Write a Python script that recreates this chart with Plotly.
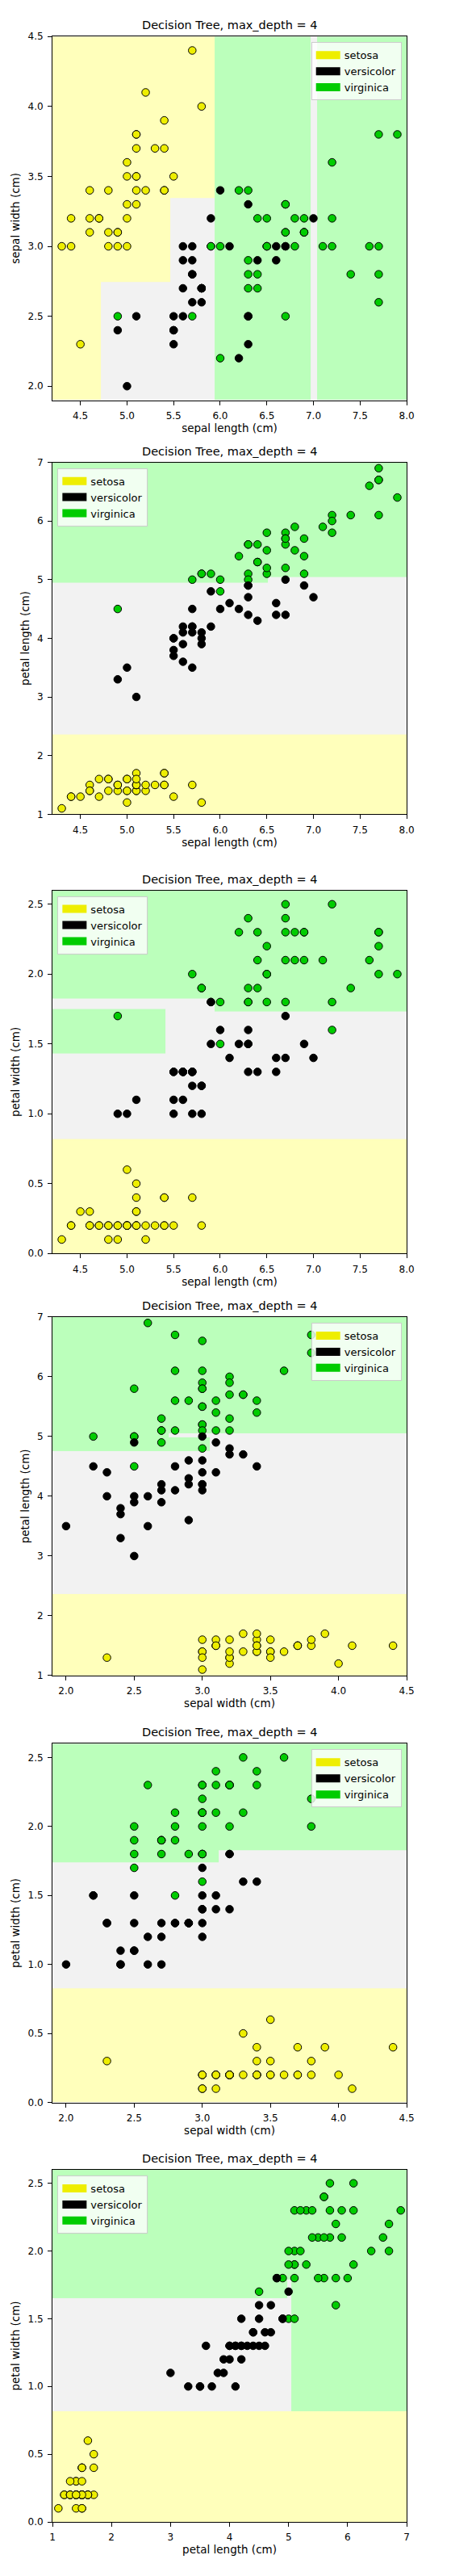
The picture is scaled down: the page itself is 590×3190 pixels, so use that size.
import plotly.graph_objects as go

# iris training rows, in the order they are drawn (later rows sit on top)
sepal_length = [
    5.1, 4.9, 4.7, 4.6, 5.0, 5.4, 4.6, 4.9, 5.4, 4.8, 4.8, 4.3, 5.8, 5.7, 5.1, 5.1, 5.4, 5.1, 5.1,
    5.0, 5.2, 4.7, 4.8, 5.4, 5.2, 4.9, 5.0, 5.5, 4.4, 5.1, 4.5, 4.4, 5.0, 5.1, 4.6, 5.3, 5.0,
    6.9, 5.9, 6.7,
    5.8, 7.1, 6.3, 6.5, 7.6, 4.9, 6.7, 7.2, 6.5, 6.4, 6.8, 5.7, 6.4, 6.5, 7.7, 7.7, 6.0, 6.9,
    7.7, 6.3, 6.7, 7.2, 6.4, 7.2, 7.4, 7.9, 6.3, 7.7, 6.3, 6.0, 6.9, 6.7, 6.9, 5.8, 6.8, 6.7,
    6.7, 6.3, 6.5, 6.2, 5.9,
    7.0, 5.5, 5.7, 6.3, 4.9, 6.6, 5.0, 5.6, 5.8, 6.2, 5.6, 5.9, 6.3, 6.4, 6.6, 6.7, 5.7, 5.5,
    5.5, 5.8, 6.0, 6.3, 5.6, 5.5, 6.1, 5.8, 5.6, 5.7, 5.7, 5.1, 5.7,
]
sepal_width = [
    3.5, 3.0, 3.2, 3.1, 3.6, 3.9, 3.4, 3.1, 3.7, 3.4, 3.0, 3.0, 4.0, 4.4, 3.5, 3.8, 3.4, 3.7, 3.3,
    3.0, 3.4, 3.2, 3.1, 3.4, 4.1, 3.1, 3.2, 3.5, 3.0, 3.4, 2.3, 3.2, 3.5, 3.8, 3.2, 3.7, 3.3,
    3.1, 3.0, 3.1,
    2.7, 3.0, 2.9, 3.0, 3.0, 2.5, 2.5, 3.6, 3.2, 2.7, 3.0, 2.5, 3.2, 3.0, 3.8, 2.6, 2.2, 3.2,
    2.8, 2.7, 3.3, 3.2, 2.8, 3.0, 2.8, 3.8, 2.8, 3.0, 3.4, 3.0, 3.1, 3.1, 3.1, 2.7, 3.2, 3.3,
    3.0, 2.5, 3.0, 3.4, 3.0,
    3.2, 2.3, 2.8, 3.3, 2.4, 2.9, 2.0, 2.9, 2.7, 2.2, 2.5, 3.2, 2.5, 2.9, 3.0, 3.0, 2.6, 2.4,
    2.4, 2.7, 3.4, 2.3, 3.0, 2.5, 3.0, 2.6, 2.7, 3.0, 2.9, 2.5, 2.8,
]
petal_length = [
    1.4, 1.4, 1.3, 1.5, 1.4, 1.7, 1.4, 1.5, 1.5, 1.6, 1.4, 1.1, 1.2, 1.5, 1.4, 1.5, 1.7, 1.5, 1.7,
    1.6, 1.4, 1.6, 1.6, 1.5, 1.5, 1.5, 1.2, 1.3, 1.3, 1.5, 1.3, 1.3, 1.6, 1.6, 1.4, 1.5, 1.4,
    4.9, 4.2, 4.4,
    5.1, 5.9, 5.6, 5.8, 6.6, 4.5, 5.8, 6.1, 5.1, 5.3, 5.5, 5.0, 5.3, 5.5, 6.7, 6.9, 5.0, 5.7,
    6.7, 4.9, 5.7, 6.0, 5.6, 5.8, 6.1, 6.4, 5.1, 6.1, 5.6, 4.8, 5.4, 5.6, 5.1, 5.1, 5.9, 5.7,
    5.2, 5.0, 5.2, 5.4, 5.1,
    4.7, 4.0, 4.5, 4.7, 3.3, 4.6, 3.5, 3.6, 4.1, 4.5, 3.9, 4.8, 4.9, 4.3, 4.4, 5.0, 3.5, 3.8,
    3.7, 3.9, 4.5, 4.4, 4.1, 4.0, 4.6, 4.0, 4.2, 4.2, 4.2, 3.0, 4.1,
]
petal_width = [
    0.2, 0.2, 0.2, 0.2, 0.2, 0.4, 0.3, 0.1, 0.2, 0.2, 0.1, 0.1, 0.2, 0.4, 0.3, 0.3, 0.2, 0.4, 0.5,
    0.2, 0.2, 0.2, 0.2, 0.4, 0.1, 0.2, 0.2, 0.2, 0.2, 0.2, 0.3, 0.2, 0.6, 0.2, 0.2, 0.2, 0.2,
    1.5, 1.5, 1.4,
    1.9, 2.1, 1.8, 2.2, 2.1, 1.7, 1.8, 2.5, 2.0, 1.9, 2.1, 2.0, 2.3, 1.8, 2.2, 2.3, 1.5, 2.3,
    2.0, 1.8, 2.1, 1.8, 2.1, 1.6, 1.9, 2.0, 1.5, 2.3, 2.4, 1.8, 2.1, 2.4, 2.3, 1.9, 2.3, 2.5,
    2.3, 1.9, 2.0, 2.3, 1.8,
    1.4, 1.3, 1.3, 1.6, 1.0, 1.3, 1.0, 1.3, 1.0, 1.5, 1.1, 1.8, 1.5, 1.3, 1.4, 1.7, 1.0, 1.1,
    1.0, 1.2, 1.6, 1.3, 1.3, 1.3, 1.4, 1.2, 1.3, 1.2, 1.3, 1.1, 1.3,
]
species = [
    0, 0, 0, 0, 0, 0, 0, 0, 0, 0, 0, 0, 0, 0, 0, 0, 0, 0, 0,
    0, 0, 0, 0, 0, 0, 0, 0, 0, 0, 0, 0, 0, 0, 0, 0, 0, 0,
    1, 1, 1,
    2, 2, 2, 2, 2, 2, 2, 2, 2, 2, 2, 2, 2, 2, 2, 2, 2, 2,
    2, 2, 2, 2, 2, 2, 2, 2, 2, 2, 2, 2, 2, 2, 2, 2, 2, 2,
    2, 2, 2, 2, 2,
    1, 1, 1, 1, 1, 1, 1, 1, 1, 1, 1, 1, 1, 1, 1, 1, 1, 1,
    1, 1, 1, 1, 1, 1, 1, 1, 1, 1, 1, 1, 1,
]

feature_names = ["sepal length (cm)", "sepal width (cm)", "petal length (cm)", "petal width (cm)"]
class_names = ["setosa", "versicolor", "virginica"]
pairs = [(0, 1), (0, 2), (0, 3), (1, 2), (1, 3), (2, 3)]

# decision regions: cell edges and class of each cell (rows bottom -> top)
region_x = [
    [4.2, 4.72, 5.46, 5.94, 6.97, 7.04, 8.0],
    [4.2, 6.51, 8.0],
    [4.2, 5.41, 5.94, 8.0],
    [1.9, 2.75, 3.055, 4.5],
    [1.9, 3.12, 4.5],
    [1.0, 4.98, 5.04, 7.0],
]
region_y = [
    [1.9, 2.745, 3.345, 4.5],
    [1.0, 2.36, 4.95, 5.04, 7.0],
    [0.0, 0.82, 1.435, 1.735, 1.75, 1.825, 2.6],
    [1.0, 2.36, 4.76, 4.99, 5.05, 7.0],
    [0.0, 0.825, 1.74, 1.83, 2.6],
    [0.0, 0.82, 1.65, 1.79, 2.6],
]
region_class = [
    [[0, 1, 1, 2, 1, 2], [0, 0, 1, 2, 1, 2], [0, 0, 0, 2, 1, 2]],
    [[0, 0], [1, 1], [2, 1], [2, 2]],
    [[0, 0, 0], [1, 1, 1], [2, 1, 1], [2, 1, 2], [1, 1, 2], [2, 2, 2]],
    [[0, 0, 0], [1, 1, 1], [2, 2, 1], [2, 1, 1], [2, 2, 2]],
    [[0, 0], [1, 1], [2, 1], [2, 2]],
    [[0, 0, 0], [1, 1, 2], [2, 1, 2], [2, 2, 2]],
]

light = ["#FFFFBB", "#F2F2F2", "#BBFFBB"]
bold = ["#EEEE00", "#000000", "#00CC00"]
features = [sepal_length, sepal_width, petal_length, petal_width]

W, H = 590, 3190
left_px, right_px = 54.3, 504.0
panel_px = [(30.3, 482.7), (560.0, 997.7), (1092.3, 1544.0),
            (1623.0, 2069.0), (2153.7, 2600.0), (2683.7, 3121.7)]
legend_side = ["right", "left", "left", "right", "right", "left"]
FONT = "DejaVu Sans"

fig = go.Figure()
layout = dict(
    width=W, height=H, margin=dict(l=0, r=0, t=0, b=0),
    paper_bgcolor="white", plot_bgcolor="white",
    font=dict(family=FONT, color="black"), annotations=[],
)

light_scale = [[0, light[0]], [1 / 3, light[0]], [1 / 3, light[1]],
               [2 / 3, light[1]], [2 / 3, light[2]], [1, light[2]]]

for k, (fi, fj) in enumerate(pairs):
    n = k + 1
    xa, ya = ("x", "y") if n == 1 else (f"x{n}", f"y{n}")
    leg = "legend" if n == 1 else f"legend{n}"
    top, bot = panel_px[k]

    fig.add_trace(go.Heatmap(
        x=region_x[k], y=region_y[k], z=region_class[k],
        zmin=0, zmax=2, colorscale=light_scale, showscale=False,
        hoverinfo="skip", xaxis=xa, yaxis=ya,
    ))
    fig.add_trace(go.Scatter(
        x=features[fi], y=features[fj], mode="markers",
        marker=dict(size=9.5, color=[bold[s] for s in species],
                    line=dict(color="black", width=1)),
        showlegend=False, xaxis=xa, yaxis=ya,
    ))
    for c, name in enumerate(class_names):
        fig.add_trace(go.Scatter(
            x=[None], y=[None], mode="lines", name=name,
            line=dict(color=bold[c], width=10),
            legend=leg, xaxis=xa, yaxis=ya,
        ))

    xr = [region_x[k][0], region_x[k][-1]]
    yr = [region_y[k][0], region_y[k][-1]]
    axis_common = dict(
        showline=True, linecolor="black", linewidth=1, mirror=True,
        ticks="outside", ticklen=5, tickcolor="black", showgrid=False,
        zeroline=False, tickfont=dict(size=12, family=FONT),
        ticklabelstandoff=3,
    )
    xkey = "xaxis" if n == 1 else f"xaxis{n}"
    ykey = "yaxis" if n == 1 else f"yaxis{n}"
    layout[xkey] = dict(
        axis_common, domain=[left_px / W, right_px / W], range=xr,
        anchor=ya, dtick=1 if fi == 2 else 0.5,
        tickformat="d" if fi == 2 else ".1f",
        title=dict(text=feature_names[fi], font=dict(size=13.5, family=FONT), standoff=4),
    )
    layout[ykey] = dict(
        axis_common, domain=[1 - bot / H, 1 - top / H], range=yr,
        anchor=xa, dtick=1 if fj == 2 else 0.5,
        tickformat="d" if fj == 2 else ".1f",
        title=dict(text=feature_names[fj], font=dict(size=13.5, family=FONT), standoff=6),
    )

    if legend_side[k] == "right":
        lx, xanchor = (right_px - 6.5) / W, "right"
    else:
        lx, xanchor = (left_px + 6.5) / W, "left"
    layout[leg] = dict(
        x=lx, y=1 - (top + 7.2) / H, xanchor=xanchor, yanchor="top",
        bgcolor="rgba(255,255,255,0.8)", bordercolor="#CCCCCC", borderwidth=1,
        font=dict(size=13, family=FONT), itemwidth=30, tracegroupgap=0,
    )
    layout["annotations"].append(dict(
        text="Decision Tree, max_depth = 4", xref="paper", yref="paper",
        x=(left_px + right_px) / 2 / W, y=1 - top / H, xanchor="center",
        yanchor="bottom", yshift=4, showarrow=False,
        font=dict(size=14.5, family=FONT),
    ))

fig.update_layout(**layout)
fig.write_html("out.html")
